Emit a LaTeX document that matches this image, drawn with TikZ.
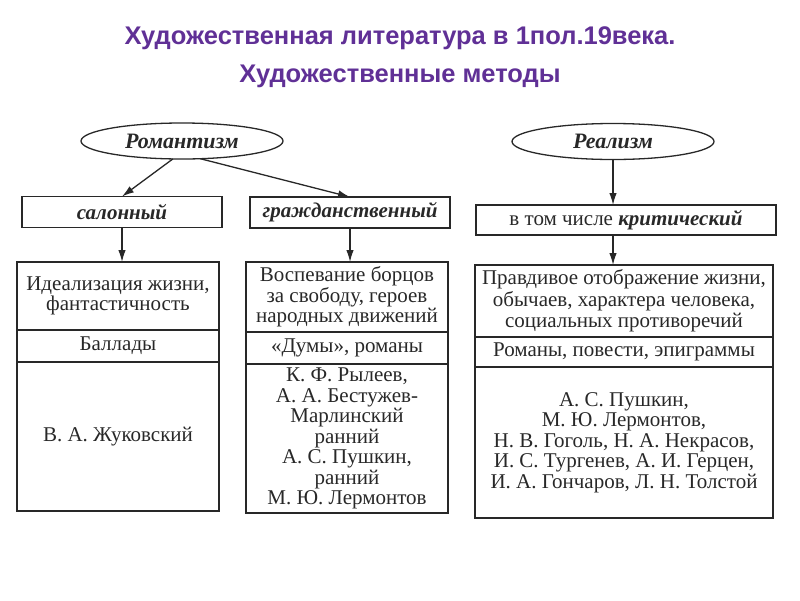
\documentclass[tikz,border=0pt]{standalone}
\usepackage{fontspec}
\setmainfont{Liberation Serif}
\newfontfamily\titlefont{Liberation Sans}
\usetikzlibrary{shapes.geometric,arrows.meta}
\definecolor{titlepurple}{RGB}{96,48,150}
\definecolor{inkgray}{RGB}{40,40,40}
\begin{document}
\begin{tikzpicture}[x=1pt,y=-1pt,
    every node/.style={inner sep=0pt,outer sep=0pt,align=center,text=inkgray,font=\fontsize{21}{20.5}\selectfont},
    heading/.style={font=\titlefont\fontsize{25.5}{28}\selectfont\bfseries,text=titlepurple},
    method/.style={draw=inkgray,ellipse,line width=1.3pt,minimum width=202pt,minimum height=36pt,font=\fontsize{22}{24}\selectfont\bfseries\itshape},
    kind/.style={draw=inkgray,rectangle,line width=1.3pt,minimum height=31pt,font=\fontsize{21}{23}\selectfont},
    cell/.style={draw=inkgray,rectangle,line width=1.3pt},
    link/.style={-{Latex[length=12pt,width=7.5pt]},draw=inkgray,fill=inkgray,line width=1.3pt}]
    \useasboundingbox (0,0) rectangle (800,600);
    \node[heading] (title1) at (400,38) {Художественная литература в 1пол.19века.};
    \node[heading] (title2) at (400,76) {Художественные методы};

    \node[method] (rom) at (182,141) {Романтизм};
    \node[method] (real) at (613,141.5) {Реализм};

    \node[kind,minimum width=200pt] (salon) at (122,212) {\bfseries\itshape салонный};
    \node[kind,minimum width=200pt] (civ) at (350,212.5) {\bfseries\itshape гражданственный};
    \node[kind,minimum width=300pt,minimum height=30pt] (crit) at (626,220) {в том числе \bfseries\itshape критический};

    \node[cell,minimum width=202pt,minimum height=68pt] (la) at (118,296) {Идеализация жизни,\\фантастичность};
    \node[cell,minimum width=202pt,minimum height=32pt] (lb) at (118,346) {Баллады};
    \node[cell,minimum width=202pt,minimum height=149pt] (lc) at (118,436.5) {В. А. Жуковский};

    \node[cell,minimum width=202pt,minimum height=70pt] (ma) at (347,297) {Воспевание борцов\\за свободу, героев\\народных движений};
    \node[cell,minimum width=202pt,minimum height=32pt] (mb) at (347,348) {«Думы», романы};
    \node[cell,minimum width=202pt,minimum height=149pt] (mc) at (347,438.5) {К. Ф. Рылеев,\\А. А. Бестужев-\\Марлинский\\ранний\\А. С. Пушкин,\\ранний\\М. Ю. Лермонтов};

    \node[cell,minimum width=298pt,minimum height=72pt,font=\fontsize{21}{21.5}\selectfont] (ra) at (624,301) {Правдивое отображение жизни,\\обычаев, характера человека,\\социальных противоречий};
    \node[cell,minimum width=298pt,minimum height=30pt] (rb) at (624,352) {Романы, повести, эпиграммы};
    \node[cell,minimum width=298pt,minimum height=151pt] (rc) at (624,442.5) {А. С. Пушкин,\\М. Ю. Лермонтов,\\Н. В. Гоголь, Н. А. Некрасов,\\И. С. Тургенев, А. И. Герцен,\\И. А. Гончаров, Л. Н. Толстой};

    \draw[link] (rom.-117) -- (salon.north);
    \draw[link] (rom.-44) -- (civ.north);
    \draw[link] (real.south) -- (real.south |- crit.north);
    \draw[link] (salon.south) -- (salon.south |- la.north);
    \draw[link] (civ.south) -- (civ.south |- ma.north);
    \draw[link] (real.south |- crit.south) -- (real.south |- ra.north);
\end{tikzpicture}
\end{document}
